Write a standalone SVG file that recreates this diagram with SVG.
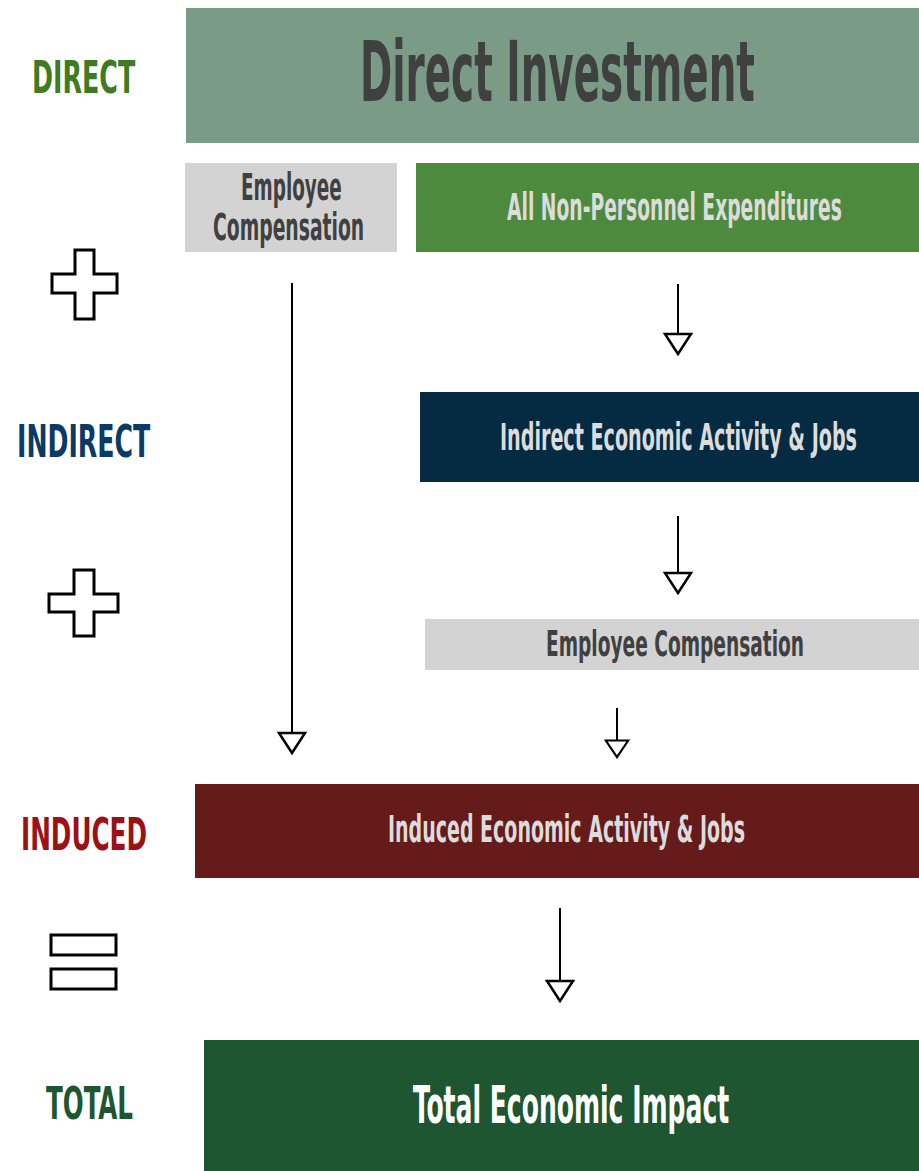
<svg xmlns="http://www.w3.org/2000/svg" width="919" height="1171" viewBox="0 0 919 1171">
<style>
text{font-family:"Liberation Sans Narrow","DejaVu Sans Condensed","Liberation Sans",sans-serif;font-weight:bold}
.sym{fill:#fff;stroke:#000;stroke-width:3}
.conn line{stroke:#000;stroke-width:2}
</style>
<defs>
<marker id="tri" viewBox="0 0 30 24" refX="15" refY="23" markerWidth="30" markerHeight="24" markerUnits="userSpaceOnUse" orient="0">
<path d="M2,2 L28,2 L15,22 Z" fill="#fff" stroke="#000" stroke-width="2.5" stroke-linejoin="miter"/>
</marker>
<marker id="trism" viewBox="0 0 30 24" refX="15" refY="23" markerWidth="26" markerHeight="20" markerUnits="userSpaceOnUse" orient="0" preserveAspectRatio="none">
<path d="M2,2 L28,2 L15,22 Z" fill="#fff" stroke="#000" stroke-width="2.5"/>
</marker>
</defs>
<rect width="919" height="1171" fill="#fff"/>
<g id="labels">
<text transform="translate(32,93) scale(0.6,1)" font-size="44" fill="#3e7b22" textLength="172" lengthAdjust="spacingAndGlyphs">DIRECT</text>
<text transform="translate(17,457) scale(0.6,1)" font-size="44" fill="#0b3a66" textLength="222" lengthAdjust="spacingAndGlyphs">INDIRECT</text>
<text transform="translate(21,850) scale(0.6,1)" font-size="44" fill="#9b1114" textLength="210" lengthAdjust="spacingAndGlyphs">INDUCED</text>
<text transform="translate(46,1119) scale(0.6,1)" font-size="44" fill="#1e5631" textLength="145" lengthAdjust="spacingAndGlyphs">TOTAL</text>
</g>
<g id="plus1"><path class="sym" d="M75,250 H94 V274 H117 V293 H94 V319 H75 V293 H52 V274 H75 Z"/></g>
<g id="plus2"><path class="sym" d="M74,570 H94 V594 H118 V612 H94 V636 H74 V612 H49 V594 H74 Z"/></g>
<g id="equals"><rect class="sym" x="51" y="935" width="65" height="20"/><rect class="sym" x="51" y="969" width="65" height="20"/></g>
<g id="direct-investment">
<rect x="186" y="8" width="733" height="135" fill="#7a9c87"/>
<text transform="translate(360,101) scale(0.55,1)" font-size="84" fill="#404040" textLength="718" lengthAdjust="spacingAndGlyphs">Direct Investment</text>
</g>
<g id="employee-comp-direct">
<rect x="185" y="163" width="212" height="89" fill="#d3d3d3"/>
<text transform="translate(241,200) scale(0.6,1)" font-size="37" fill="#404040" textLength="168" lengthAdjust="spacingAndGlyphs">Employee</text>
<text transform="translate(213,240) scale(0.6,1)" font-size="37" fill="#404040" textLength="252" lengthAdjust="spacingAndGlyphs">Compensation</text>
</g>
<g id="non-personnel">
<rect x="416" y="163" width="503" height="89" fill="#4d8a3e"/>
<text transform="translate(507,220) scale(0.6,1)" font-size="37" fill="#dcdcdc" textLength="558" lengthAdjust="spacingAndGlyphs">All Non-Personnel Expenditures</text>
</g>
<g id="indirect">
<rect x="420" y="392" width="499" height="90" fill="#052b42"/>
<text transform="translate(500,450) scale(0.6,1)" font-size="37" fill="#dcdcdc" textLength="595" lengthAdjust="spacingAndGlyphs">Indirect Economic Activity &amp; Jobs</text>
</g>
<g id="employee-comp-indirect">
<rect x="425" y="619" width="494" height="51" fill="#d3d3d3"/>
<text transform="translate(546,656) scale(0.6,1)" font-size="36" fill="#404040" textLength="430" lengthAdjust="spacingAndGlyphs">Employee Compensation</text>
</g>
<g id="induced">
<rect x="195" y="784" width="724" height="94" fill="#661b1b"/>
<text transform="translate(388,842) scale(0.6,1)" font-size="37" fill="#dcdcdc" textLength="595" lengthAdjust="spacingAndGlyphs">Induced Economic Activity &amp; Jobs</text>
</g>
<g id="total">
<rect x="204" y="1040" width="715" height="131" fill="#1e5631"/>
<text transform="translate(413,1123) scale(0.6,1)" font-size="51" fill="#ffffff" textLength="527" lengthAdjust="spacingAndGlyphs">Total Economic Impact</text>
</g>
<g id="connectors" class="conn">
<line x1="678" y1="284" x2="678" y2="355" marker-end="url(#tri)"/>
<line x1="678" y1="516" x2="678" y2="594" marker-end="url(#tri)"/>
<line x1="617" y1="708" x2="617" y2="758" marker-end="url(#trism)"/>
<line x1="292" y1="283" x2="292" y2="754" marker-end="url(#tri)"/>
<line x1="560" y1="908" x2="560" y2="1002" marker-end="url(#tri)"/>
</g>
</svg>
